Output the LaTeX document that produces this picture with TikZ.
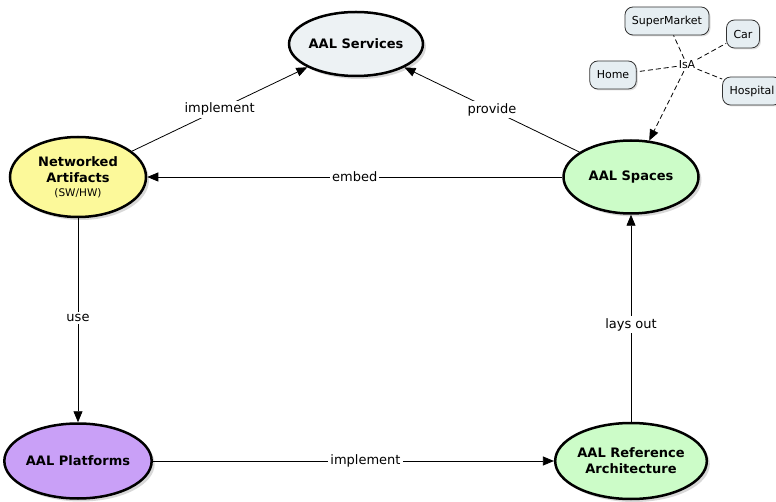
\documentclass[tikz,border=0pt]{standalone}
\usepackage{fontspec}
\setmainfont{DejaVu Sans}
\usetikzlibrary{shapes.geometric,shadows,arrows.meta}
\definecolor{servfill}{HTML}{EDF2F4}
\definecolor{yel}{HTML}{FCF99A}
\definecolor{grn}{HTML}{CCFCC8}
\definecolor{purp}{HTML}{C9A0F7}
\definecolor{smallfill}{HTML}{E6EEF2}
\begin{document}
\begin{tikzpicture}[x=1pt,y=-1pt,
  concept/.style={ellipse, draw=black, line width=2.5pt, inner sep=0pt, align=center,
    font=\fontsize{13}{16}\selectfont\bfseries,
    drop shadow={shadow xshift=3pt,shadow yshift=-3pt,fill=black!30}},
  small/.style={rounded corners=8pt, draw=black!80, line width=0.8pt, fill=smallfill,
    font=\fontsize{11}{13}\selectfont, minimum height=28pt, inner xsep=7pt,
    drop shadow={shadow xshift=1.5pt,shadow yshift=-1.5pt,fill=black!25}},
  dsh/.style={dash pattern=on 5pt off 3pt, line width=0.8pt},
  link/.style={line width=0.8pt, -{Triangle[length=11pt,width=9pt]}},
  lbl/.style={fill=white, inner sep=2pt, font=\fontsize{13}{15}\selectfont}]
\useasboundingbox (0,0) rectangle (776,502);
\node[concept, fill=servfill, minimum width=128pt, minimum height=64pt] (serv) at (356,44) {AAL Services};
\node[concept, fill=yel, minimum width=136pt, minimum height=80pt] (net) at (78,177)
  {Networked\\Artifacts\\[-2pt]{\fontsize{10.5}{12}\selectfont\mdseries (SW/HW)}};
\node[concept, fill=grn, minimum width=135pt, minimum height=73pt] (spc) at (631,177) {AAL Spaces};
\node[concept, fill=purp, minimum width=145pt, minimum height=75pt] (plat) at (78,461) {AAL Platforms};
\node[concept, fill=grn, minimum width=134pt, minimum height=76pt] (ref) at (631,461) {AAL Reference\\Architecture};

\node[small] (sm) at (667,21) {SuperMarket};
\node[small] (car) at (743,34) {Car};
\node[small] (home) at (613,75) {Home};
\node[small] (hosp) at (752,91) {Hospital};
\node[font=\fontsize{11}{13}\selectfont, inner sep=2pt] (isa) at (687,65) {IsA};

\draw[dsh] (isa) -- (sm);
\draw[dsh] (isa) -- (car);
\draw[dsh] (isa) -- (home);
\draw[dsh] (isa) -- (hosp);
\draw[link, dsh] (isa) -- (spc);

\draw[link] (net) -- node[lbl]{implement} (serv);
\draw[link] (spc) -- node[lbl]{provide} (serv);
\draw[link] (spc) -- node[lbl]{embed} (net);
\draw[link] (net) -- node[lbl, pos=0.49]{use} (plat);
\draw[link] (plat) -- node[lbl, pos=0.53]{implement} (ref);
\draw[link] (ref) -- node[lbl, pos=0.47]{lays out} (spc);
\end{tikzpicture}
\end{document}
